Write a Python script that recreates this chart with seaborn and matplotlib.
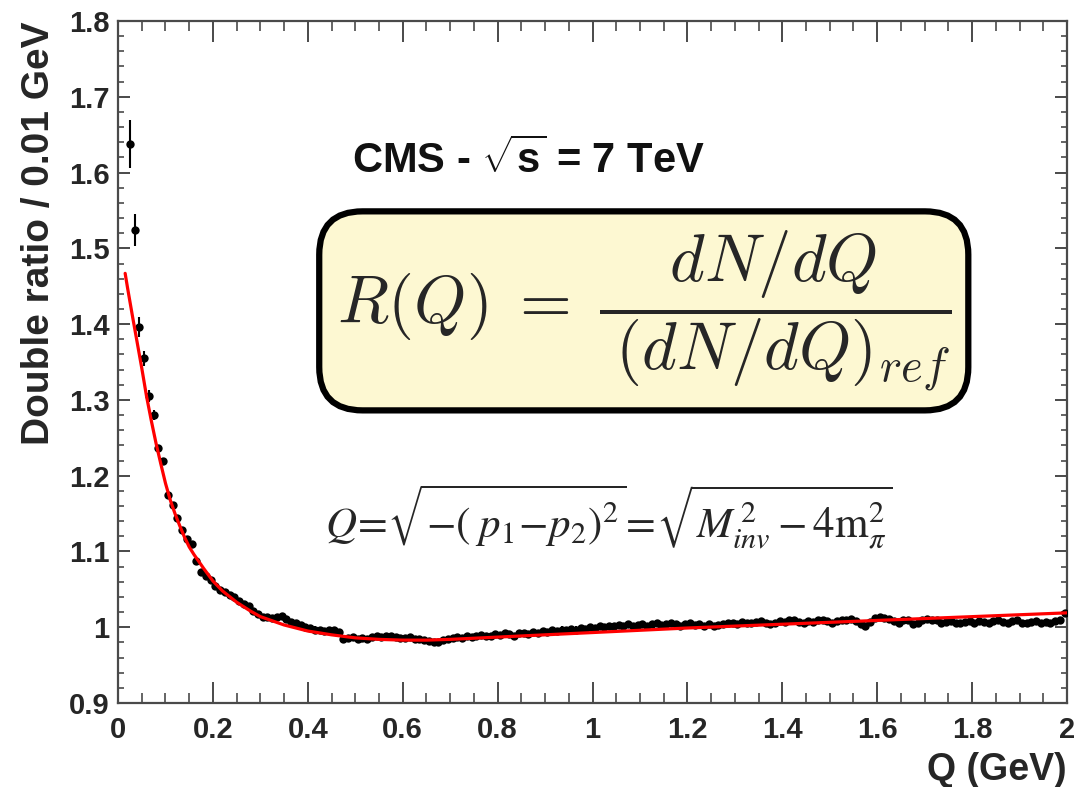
import numpy as np
import matplotlib
matplotlib.use("Agg")
import matplotlib.pyplot as plt
from matplotlib.ticker import MultipleLocator
import seaborn as sns

# Double ratio R(Q) in 0.01 GeV bins, first bin centred at 0.025 GeV
BIN_WIDTH = 0.01
Q_FIRST = 0.025
ratio = [
    1.638, 1.524, 1.396, 1.355, 1.305, 1.280, 1.236, 1.219, 1.174, 1.161,
    1.144, 1.128, 1.117, 1.110, 1.088, 1.073, 1.067, 1.062, 1.055, 1.049,
    1.046, 1.043, 1.040, 1.035, 1.031, 1.028, 1.022, 1.018, 1.014, 1.013,
    1.012, 1.014, 1.015, 1.011, 1.007, 1.005, 1.003, 1.000, 0.999, 0.997,
    0.996, 0.995, 0.996, 0.996, 0.994, 0.985, 0.986, 0.987, 0.984, 0.986,
    0.985, 0.987, 0.988, 0.987, 0.989, 0.988, 0.987, 0.986, 0.986, 0.987,
    0.985, 0.984, 0.983, 0.982, 0.980, 0.981, 0.983, 0.985, 0.986, 0.987,
    0.986, 0.988, 0.987, 0.989, 0.990, 0.988, 0.989, 0.991, 0.990, 0.992,
    0.991, 0.989, 0.992, 0.993, 0.991, 0.994, 0.993, 0.995, 0.994, 0.996,
    0.995, 0.997, 0.996, 0.998, 0.997, 0.999, 0.998, 1.000, 0.999, 1.001,
    1.000, 1.002, 1.001, 1.003, 1.002, 1.004, 1.002, 1.003, 1.004, 1.002,
    1.004, 1.005, 1.003, 1.004, 1.005, 1.004, 1.002, 1.004, 1.005, 1.003,
    1.004, 1.002, 1.004, 1.001, 1.003, 1.004, 1.005, 1.006, 1.004, 1.007,
    1.006, 1.005, 1.007, 1.008, 1.006, 1.004, 1.006, 1.008, 1.007, 1.009,
    1.010, 1.007, 1.006, 1.008, 1.007, 1.009, 1.010, 1.008, 1.006, 1.008,
    1.009, 1.010, 1.011, 1.008, 1.004, 1.001, 1.007, 1.012, 1.014, 1.012,
    1.011, 1.008, 1.006, 1.010, 1.009, 1.004, 1.006, 1.009, 1.011, 1.010,
    1.009, 1.005, 1.007, 1.008, 1.006, 1.005, 1.007, 1.008, 1.006, 1.008,
    1.007, 1.005, 1.008, 1.009, 1.007, 1.006, 1.008, 1.009, 1.006, 1.005,
    1.007, 1.008, 1.006, 1.007, 1.006, 1.008, 1.010, 1.019,
]
# statistical uncertainties: large in the first bins, tiny afterwards
ratio_err_low_q = [0.032, 0.021, 0.013, 0.010, 0.008, 0.007]
ratio_err_rest = 0.004

# fitted curve
fit_q = [0.015, 0.02, 0.03, 0.04, 0.05, 0.06, 0.07, 0.08, 0.09, 0.10,
         0.11, 0.12, 0.13, 0.14, 0.15, 0.16, 0.18, 0.20, 0.22, 0.25,
         0.28, 0.30, 0.35, 0.40, 0.45, 0.50, 0.55, 0.60, 0.65, 0.70,
         0.80, 0.90, 1.00, 1.20, 1.40, 1.60, 1.80, 2.00]
fit_r = [1.467, 1.448, 1.412, 1.377, 1.342, 1.305, 1.273, 1.243, 1.216, 1.190,
         1.168, 1.150, 1.134, 1.119, 1.106, 1.096, 1.078, 1.061, 1.048, 1.033,
         1.021, 1.014, 1.003, 0.995, 0.990, 0.986, 0.984, 0.983, 0.983, 0.984,
         0.987, 0.990, 0.993, 0.999, 1.004, 1.009, 1.014, 1.019]

x_ticks = [0, 0.2, 0.4, 0.6, 0.8, 1.0, 1.2, 1.4, 1.6, 1.8, 2.0]
x_ticklabels = ["0", "0.2", "0.4", "0.6", "0.8", "1", "1.2", "1.4", "1.6", "1.8", "2"]
y_ticks = [0.9, 1.0, 1.1, 1.2, 1.3, 1.4, 1.5, 1.6, 1.7, 1.8]
y_ticklabels = ["0.9", "1", "1.1", "1.2", "1.3", "1.4", "1.5", "1.6", "1.7", "1.8"]

sns.set_theme(style="ticks")
plt.rcParams["font.family"] = ["Liberation Sans", "DejaVu Sans"]
plt.rcParams["mathtext.fontset"] = "custom"
plt.rcParams["mathtext.rm"] = "Liberation Sans:bold"
plt.rcParams["mathtext.bf"] = "Liberation Sans:bold"
plt.rcParams["mathtext.it"] = "Liberation Sans:bold"

n = len(ratio)
q = Q_FIRST + BIN_WIDTH * np.arange(n)
err = np.array(ratio_err_low_q + [ratio_err_rest] * (n - len(ratio_err_low_q)))

fig = plt.figure(figsize=(10.74, 7.87), dpi=100)
ax = fig.add_axes([0.1099, 0.1067, 0.8836, 0.8666])

ax.errorbar(q, ratio, yerr=err, xerr=BIN_WIDTH / 2, fmt="none",
            ecolor="black", elinewidth=1.5, capsize=0, zorder=2)
sns.scatterplot(x=q, y=ratio, ax=ax, color="black", s=36, linewidth=0,
                zorder=3)
sns.lineplot(x=fit_q, y=fit_r, ax=ax, color="#ff0000", linewidth=2.3,
             sort=False, estimator=None, zorder=4)

ax.set_xlim(0, 2.0)
ax.set_ylim(0.9, 1.8)
ax.set_xticks(x_ticks)
ax.set_xticklabels(x_ticklabels)
ax.set_yticks(y_ticks)
ax.set_yticklabels(y_ticklabels)
ax.xaxis.set_minor_locator(MultipleLocator(0.05))
ax.yaxis.set_minor_locator(MultipleLocator(0.02))

frame_col = "#4a4a4a"
for sp in ax.spines.values():
    sp.set_visible(True)
    sp.set_color(frame_col)
    sp.set_linewidth(1.6)

ax.tick_params(axis="x", which="major", direction="in", length=15, width=1.4,
               color=frame_col, top=True, bottom=True, labelsize=21, pad=9)
ax.tick_params(axis="x", which="minor", direction="in", length=7.5, width=1.2,
               color=frame_col, top=True, bottom=True)
ax.tick_params(axis="y", which="major", direction="in", length=8.5, width=1.4,
               color=frame_col, left=True, right=True, labelsize=21, pad=6)
ax.tick_params(axis="y", which="minor", direction="in", length=4, width=1.2,
               color=frame_col, left=True, right=True)
for lab in ax.get_xticklabels() + ax.get_yticklabels():
    lab.set_fontweight("bold")

ax.set_xlabel("Q (GeV)", fontsize=27, fontweight="bold", loc="right", labelpad=6)
ax.set_ylabel("Double ratio / 0.01 GeV", fontsize=28, fontweight="bold",
              loc="top", labelpad=9)

ax.text(0.2466, 0.796, r"CMS - $\sqrt{\mathbf{s}}$ = 7 TeV", transform=ax.transAxes,
        fontsize=30, fontweight="bold", ha="left", va="center",
        math_fontfamily="custom", color="#111111")

ax.text(0.554, 0.575,
        r"$R(Q)\;=\;\dfrac{dN/dQ}{\;(dN/dQ)_{ref}}$",
        transform=ax.transAxes, fontsize=48, fontweight="normal",
        ha="center", va="center", math_fontfamily="cm",
        bbox=dict(boxstyle="round,pad=0.26,rounding_size=0.65",
                  fc="#fdf8d2", ec="black", lw=4.5))

ax.text(0.218, 0.272,
        r"$Q\!=\!\sqrt{-(\;p_1\!-\!p_2)^2}\!=\!\sqrt{M_{inv}^{\,2}-4\mathrm{m}_{\pi}^{2}}$",
        transform=ax.transAxes, fontsize=31, fontweight="normal",
        ha="left", va="center", math_fontfamily="stix")

fig.savefig("out.png", dpi=100, facecolor="white")
